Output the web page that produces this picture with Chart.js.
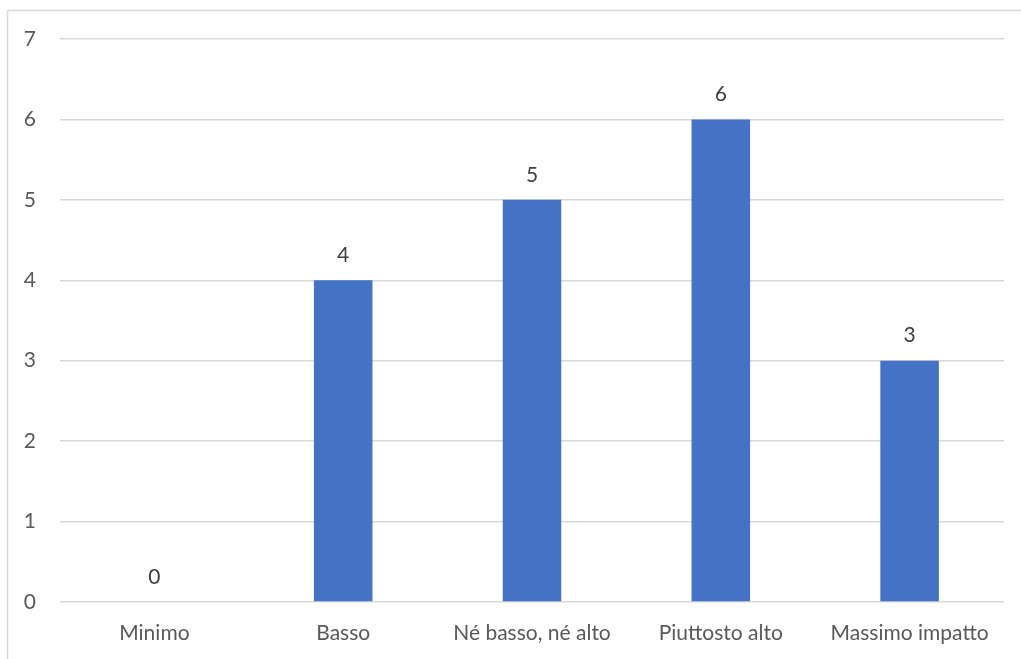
<!DOCTYPE html>
<html>
<head>
<meta charset="utf-8">
<script src="https://cdn.jsdelivr.net/npm/chart.js@4"></script>
<style>
    html, body { margin: 0; padding: 0; background: #ffffff; }
    #wrap { width: 1021px; height: 659px; position: relative; }
</style>
</head>
<body>
<div id="wrap"><canvas id="impattoChart"></canvas></div>
<script>
// categorie e valori
const categorie = ['Minimo', 'Basso', 'Né basso, né alto', 'Piuttosto alto', 'Massimo impatto'];
const valori = [0, 4, 5, 6, 3];
const yMin = 0;
const yMax = 7;
const yStep = 1;

const fontTesto = { family: 'Lato', size: 21 };

// cornice grigia dell'area grafico (tagliata a destra e in basso)
const cornice = {
    id: 'cornice',
    beforeDraw(chart) {
        const ctx = chart.ctx;
        ctx.save();
        ctx.strokeStyle = '#d9d9d9';
        ctx.lineWidth = 1.5;
        ctx.beginPath();
        ctx.moveTo(7.5, chart.height + 5);
        ctx.lineTo(7.5, 10.5);
        ctx.lineTo(chart.width + 5, 10.5);
        ctx.stroke();
        ctx.restore();
    }
};

// etichette dei valori sopra le barre
const etichette = {
    id: 'etichette',
    afterDatasetsDraw(chart) {
        const ctx = chart.ctx;
        const meta = chart.getDatasetMeta(0);
        ctx.save();
        ctx.font = fontTesto.size + 'px ' + fontTesto.family;
        ctx.fillStyle = '#404040';
        ctx.textAlign = 'center';
        ctx.textBaseline = 'middle';
        meta.data.forEach(function(bar, i) {
            ctx.fillText(String(valori[i]), bar.x, bar.y - 25);
        });
        ctx.restore();
    }
};

const ctx = document.getElementById('impattoChart').getContext('2d');
new Chart(ctx, {
    type: 'bar',
    data: {
        labels: categorie,
        datasets: [{
            data: valori,
            backgroundColor: '#4472c4',
            borderWidth: 0,
            barPercentage: 0.62,
            categoryPercentage: 0.5
        }]
    },
    options: {
        responsive: true,
        maintainAspectRatio: false,
        animation: false,
        layout: {
            padding: { left: 0, top: 39, right: 17, bottom: 0 }
        },
        plugins: {
            legend: { display: false },
            tooltip: { enabled: false }
        },
        scales: {
            x: {
                grid: { display: false, drawTicks: false },
                border: { display: false },
                ticks: {
                    color: '#595959',
                    font: fontTesto,
                    padding: 19,
                    maxRotation: 0,
                    autoSkip: false
                },
                afterFit(scale) { scale.height = 57; }
            },
            y: {
                min: yMin,
                max: yMax,
                grid: { color: '#d9d9d9', lineWidth: 1.5, drawTicks: false },
                border: { display: false },
                ticks: {
                    stepSize: yStep,
                    color: '#595959',
                    font: fontTesto,
                    padding: 24
                },
                afterFit(scale) { scale.width = 60; }
            }
        }
    },
    plugins: [cornice, etichette]
});
</script>
</body>
</html>
